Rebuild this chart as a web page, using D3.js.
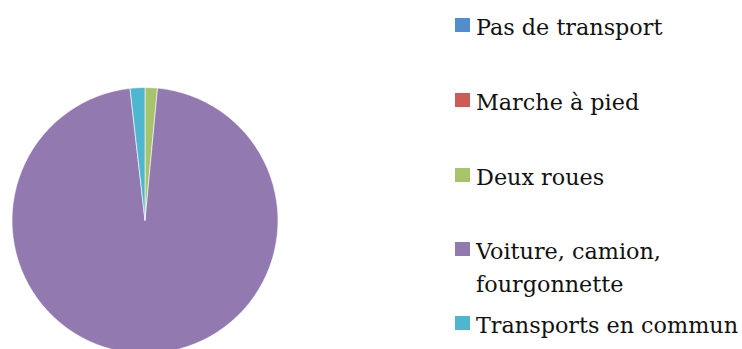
<!DOCTYPE html>
<html>
<head>
<meta charset="utf-8">
<script src="https://cdn.jsdelivr.net/npm/d3@7"></script>
<style>
  html, body { margin: 0; padding: 0; background: #fff; }
  svg { display: block; }
</style>
</head>
<body>
<svg id="chart" width="742" height="349"></svg>
<script>
// Modes de transport (part en %)
const categories = ["Pas de transport", "Marche à pied", "Deux roues", "Voiture, camion, fourgonnette", "Transports en commun"];
const values = [0, 0, 1.5, 96.7, 1.8];
const legendLines = [["Pas de transport"], ["Marche à pied"], ["Deux roues"], ["Voiture, camion,", "fourgonnette"], ["Transports en commun"]];
const colors = ["#548dcb", "#cd5c57", "#a8c46b", "#927ab1", "#4fb6cf"];

const svg = d3.select("#chart");

const data = categories.map((c, i) => ({ name: c, value: values[i], lines: legendLines[i] }));

const color = d3.scaleOrdinal().domain(categories).range(colors);

// Pie, starting at 12 o'clock, clockwise, in series order
const pie = d3.pie().value(d => d.value).sort(null);
const radius = 133;
const arc = d3.arc().innerRadius(0).outerRadius(radius);

const g = svg.append("g").attr("transform", "translate(145,220.5)");
g.selectAll("path")
  .data(pie(data))
  .join("path")
  .attr("d", arc)
  .attr("fill", d => color(d.data.name))
  .attr("stroke", "#fff")
  .attr("stroke-width", 0.6);

// Legend: one row per category, the car entry wraps to two lines
const legendRowY = [35, 110, 185, 259, 333];
const leg = svg.append("g");
data.forEach((d, i) => {
  const base = legendRowY[i];
  leg.append("rect")
    .attr("x", 455).attr("y", base - 17)
    .attr("width", 15).attr("height", 14)
    .attr("fill", color(d.name));
  const t = leg.append("text")
    .attr("x", 476).attr("y", base)
    .attr("font-family", "'DejaVu Serif', serif")
    .attr("font-size", 22.3)
    .attr("fill", "#111");
  d.lines.forEach((ln, j) => {
    t.append("tspan").attr("x", 476).attr("y", base + j * 33).text(ln);
  });
});
</script>
</body>
</html>
